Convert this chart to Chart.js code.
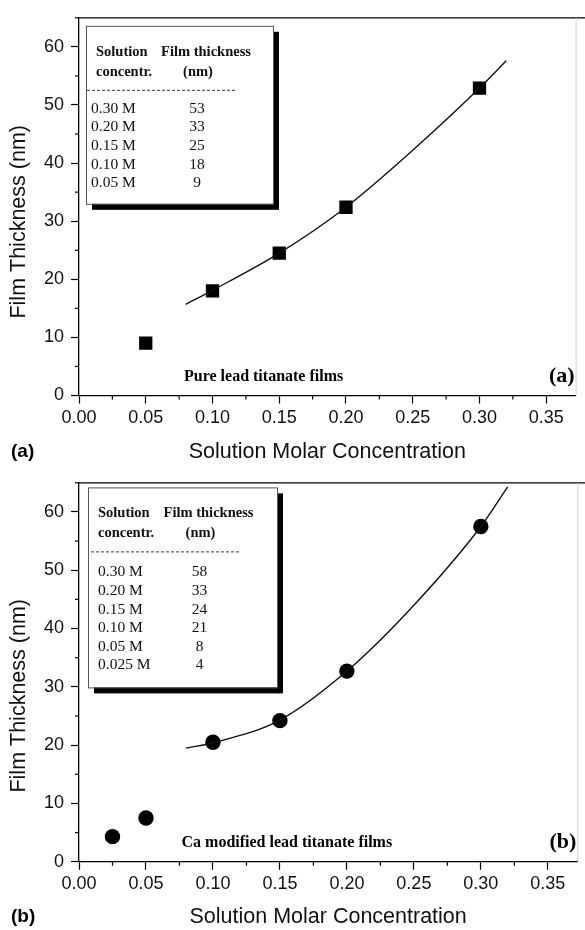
<!DOCTYPE html>
<html>
<head>
<title>Film thickness vs solution concentration</title>
<script src="https://cdn.jsdelivr.net/npm/chart.js@4.4.1/dist/chart.umd.min.js"></script>
<style>
body { margin: 0; background: #fff; }
.panel { width: 585px; height: 465px; }
</style>
</head>
<body>
<div class="panel"><canvas id="chartA" width="585" height="465"></canvas></div>
<div class="panel"><canvas id="chartB" width="585" height="465"></canvas></div>
<script>
// (a) pure lead titanate
var concA = [0.05, 0.10, 0.15, 0.20, 0.30];
var thickA = [9, 18, 24.5, 32.4, 52.9];
var fitXA = [0.08, 0.10, 0.15, 0.20, 0.25, 0.30, 0.32];
var fitYA = [15.7, 18.1, 24.5, 32.4, 42.2, 52.9, 57.6];
var tableConcA = ['0.30 M', '0.20 M', '0.15 M', '0.10 M', '0.05 M'];
var tableThickA = ['53', '33', '25', '18', '9'];

// (b) Ca modified lead titanate
var concB = [0.025, 0.05, 0.10, 0.15, 0.20, 0.30];
var thickB = [4.3, 7.5, 20.5, 24.2, 32.7, 57.5];
var fitXB = [0.08, 0.10, 0.15, 0.20, 0.25, 0.30, 0.32];
var fitYB = [19.5, 20.4, 24.3, 32.7, 44.0, 57.5, 64.3];
var tableConcB = ['0.30 M', '0.20 M', '0.15 M', '0.10 M', '0.05 M', '0.025 M'];
var tableThickB = ['58', '33', '24', '21', '8', '4'];

var xLabels = ['0.00', '0.05', '0.10', '0.15', '0.20', '0.25', '0.30', '0.35'];
var yLabels = ['0', '10', '20', '30', '40', '50', '60'];

var SANS = '"Liberation Sans", Arial, sans-serif';
var SERIF = '"Liberation Serif", "Times New Roman", serif';

function isMajorX(v) { return Math.round(v * 1000) % 50 === 0; }
function isMajorY(v) { return Math.round(v) % 10 === 0; }

function seg(ctx, x1, y1, x2, y2) {
  ctx.beginPath(); ctx.moveTo(x1, y1); ctx.lineTo(x2, y2); ctx.stroke();
}

var extras = {
  id: 'extras',
  afterDraw: function (chart, args, o) {
    var ctx = chart.ctx, a = chart.chartArea, sx = chart.scales.x, sy = chart.scales.y;
    ctx.save();
    // frame: top line, faint right edge
    ctx.strokeStyle = '#000'; ctx.lineWidth = 1.3;
    seg(ctx, a.left, a.top, chart.width, a.top);
    ctx.strokeStyle = '#d0d0d0'; ctx.lineWidth = 1;
    seg(ctx, a.right + 0.5, a.top, a.right + 0.5, a.bottom);
    // minor ticks
    ctx.strokeStyle = '#000'; ctx.lineWidth = 1.2;
    sx.ticks.forEach(function (t) {
      if (!isMajorX(t.value)) { var p = sx.getPixelForValue(t.value); seg(ctx, p, a.bottom, p, a.bottom + 4); }
    });
    sy.ticks.forEach(function (t) {
      if (!isMajorY(t.value)) { var p = sy.getPixelForValue(t.value); seg(ctx, a.left - 4, p, a.left, p); }
    });

    // y axis title (sits a bit below the plot centre in the original)
    ctx.fillStyle = '#111';
    ctx.font = '21.5px ' + SANS;
    ctx.textAlign = 'center';
    ctx.textBaseline = 'middle';
    ctx.translate(19.5, a.top + o.yTitleDy);
    ctx.rotate(-Math.PI / 2);
    ctx.fillText('Film Thickness (nm)', 0, 0);
    ctx.setTransform(1, 0, 0, 1, 0, 0);

    // inset table
    var L = a.left + o.boxDx, T = a.top + o.boxDy, W = o.boxW, H = o.boxH;
    ctx.fillStyle = '#000';
    ctx.fillRect(L + 6, T + 6, W, H);
    ctx.fillStyle = '#fff';
    ctx.fillRect(L, T, W, H);
    ctx.strokeStyle = '#555'; ctx.lineWidth = 1;
    ctx.strokeRect(L + 0.5, T + 0.5, W, H);

    ctx.fillStyle = '#111';
    ctx.font = 'bold 14.5px ' + SERIF;
    ctx.textAlign = 'left';
    ctx.fillText('Solution', L + 10, T + 26);
    ctx.fillText('concentr.', L + 10, T + 46);
    ctx.textAlign = 'center';
    ctx.fillText('Film thickness', L + o.valX + 9, T + 26);
    ctx.fillText('(nm)', L + o.valX + 1, T + 46);

    ctx.strokeStyle = '#333'; ctx.lineWidth = 1;
    ctx.setLineDash([3, 2]);
    seg(ctx, L + o.dashX, T + 64.5, L + o.dashX + 150, T + 64.5);
    ctx.setLineDash([]);

    ctx.font = '15.5px ' + SERIF;
    o.conc.forEach(function (c, i) {
      var y = T + o.rowY + i * 18.6;
      ctx.textAlign = 'left';
      ctx.fillText(c, L + o.concX, y);
      ctx.textAlign = 'center';
      ctx.fillText(o.thick[i], L + o.valX, y);
    });

    // in-plot captions
    ctx.fillStyle = '#000';
    ctx.font = 'bold 16px ' + SERIF;
    ctx.textAlign = 'left';
    ctx.fillText(o.caption, a.left + o.capX, a.bottom - 19);
    ctx.font = 'bold 22px ' + SERIF;
    ctx.textAlign = 'right';
    ctx.fillText(o.tag, a.right - 1, a.bottom - 19);

    // panel letter
    ctx.font = 'bold 19px ' + SANS;
    ctx.textAlign = 'left';
    ctx.fillText(o.tag, 11, chart.height - 13.5);
    ctx.restore();
  }
};

function makeChart(id, conc, thick, fitX, fitY, style, extraOpts, padTop, xHeight) {
  var pts = conc.map(function (c, i) { return { x: c, y: thick[i] }; });
  var fit = fitX.map(function (c, i) { return { x: c, y: fitY[i] }; });
  return new Chart(document.getElementById(id), {
    type: 'scatter',
    data: {
      datasets: [
        { data: fit, showLine: true, borderColor: '#111', borderWidth: 1.4, pointRadius: 0,
          cubicInterpolationMode: 'monotone', fill: false },
        { data: pts, pointStyle: style, pointRadius: style === 'rect' ? 9.4 : 7.7,
          backgroundColor: '#000', borderColor: '#000', borderWidth: 0, showLine: false }
      ]
    },
    options: {
      responsive: false,
      devicePixelRatio: 1,
      animation: false,
      layout: { padding: { top: padTop, right: 2, left: 0, bottom: 0 } },
      plugins: { legend: { display: false }, tooltip: { enabled: false }, extras: extraOpts },
      scales: {
        x: {
          type: 'linear', min: 0, max: 0.372,
          afterFit: function (s) { s.height = xHeight; },
          border: { color: '#000', width: 1.3 },
          grid: { drawOnChartArea: false, tickLength: 8, tickWidth: 1.2,
            tickColor: function (c) { return c.tick && isMajorX(c.tick.value) ? '#000' : 'rgba(0,0,0,0)'; } },
          ticks: { stepSize: 0.025, includeBounds: false, autoSkip: false, maxRotation: 0, padding: 4,
            color: '#111', font: { family: SANS, size: 18 },
            callback: function (v) { return isMajorX(v) ? xLabels[Math.round(v * 20)] : ''; } },
          title: { display: true, text: 'Solution Molar Concentration', color: '#111',
            font: { family: SANS, size: 21.5 }, padding: { top: 0, bottom: 0 } }
        },
        y: {
          min: 0, max: 65,
          afterFit: function (s) { s.width = 79; },
          border: { color: '#000', width: 1.3 },
          grid: { drawOnChartArea: false, tickLength: 8, tickWidth: 1.2,
            tickColor: function (c) { return c.tick && isMajorY(c.tick.value) ? '#000' : 'rgba(0,0,0,0)'; } },
          ticks: { stepSize: 5, includeBounds: false, autoSkip: false, padding: 7,
            color: '#111', font: { family: SANS, size: 18 },
            callback: function (v) { return isMajorY(v) ? yLabels[Math.round(v / 10)] : ''; } },
          title: { display: false }
        }
      }
    },
    plugins: [extras]
  });
}

makeChart('chartA', concA, thickA, fitXA, fitYA, 'rect', {
  boxDx: 7, boxDy: 8, boxW: 187, boxH: 178, rowY: 83, concX: 5, valX: 111, dashX: 1, yTitleDy: 204,
  conc: tableConcA, thick: tableThickA, caption: 'Pure lead titanate films', capX: 105, tag: '(a)'
}, 8, 69.5);

makeChart('chartB', concB, thickB, fitXB, fitYB, 'circle', {
  boxDx: 9, boxDy: 4.6, boxW: 189, boxH: 200, rowY: 85, concX: 10, valX: 111.5, dashX: 3, yTitleDy: 213,
  conc: tableConcB, thick: tableThickB, caption: 'Ca modified lead titanate films', capX: 102.5, tag: '(b)'
}, 9.7, 68.3);
</script>
</body>
</html>
